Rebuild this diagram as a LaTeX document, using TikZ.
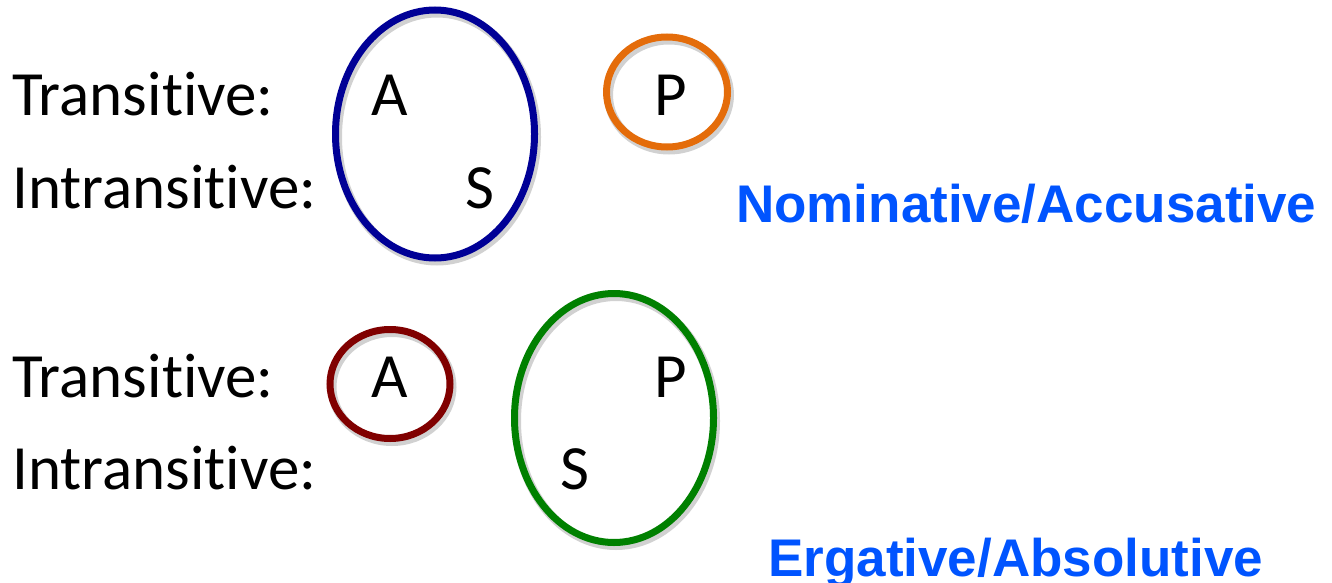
\documentclass[tikz,border=0pt]{standalone}
\usepackage{fontspec}
\setmainfont{Carlito}[Ligatures=NoCommon,RawFeature={-liga;-calt;-dlig}]
\newfontfamily\labfont{Liberation Sans}
\usetikzlibrary{shapes.geometric}
\definecolor{navyring}{RGB}{0,0,150}
\definecolor{orangering}{RGB}{228,108,10}
\definecolor{redring}{RGB}{128,0,0}
\definecolor{greenring}{RGB}{0,128,0}
\definecolor{labblue}{RGB}{0,84,255}
\begin{document}
\begin{tikzpicture}[x=1pt,y=-1pt,
  word/.style={anchor=base west,inner sep=0pt,font=\fontsize{63}{70}\selectfont},
  letter/.style={anchor=base west,inner sep=0pt,font=\fontsize{63}{70}\selectfont},
  lab/.style={anchor=base west,inner sep=0pt,text=labblue,font=\labfont\bfseries\fontsize{53}{60}\selectfont},
  shade/.style={draw=black,opacity=0.18,line width=9pt},
  ringline/.style={line width=7pt}]
\useasboundingbox (0,0) rectangle (1332,583);
% shadows
\draw[shade] (437,137) ellipse [x radius=99.5, y radius=124];
\draw[shade] (669,95) ellipse [x radius=60.5, y radius=55];
\draw[shade] (392,387) ellipse [x radius=60, y radius=54.5];
\draw[shade] (616,421) ellipse [x radius=99.5, y radius=124.5];
% rings
\draw[ringline,navyring] (435,134) ellipse [x radius=99.5, y radius=124];
\draw[ringline,orangering] (667,92) ellipse [x radius=60.5, y radius=55];
\draw[ringline,redring] (390,384) ellipse [x radius=60, y radius=54.5];
\draw[ringline,greenring] (614,418) ellipse [x radius=99.5, y radius=124.5];
% texts
\node[word] (t1) at (12,116) {Transitive:};
\node[word] (i1) at (12,208) {Intransitive:};
\node[word] (t2) at (12,397) {Transitive:};
\node[word] (i2) at (12,489) {Intransitive:};
\node[letter] (a1) at (371,116) {A};
\node[letter] (s1) at (465,208) {S};
\node[letter] (p1) at (654,116) {P};
\node[letter] (a2) at (371,397) {A};
\node[letter] (p2) at (654,397) {P};
\node[letter] (s2) at (560,489) {S};
\node[lab] (nom) at (736,222) {Nominative/Accusative};
\node[lab] (erg) at (768,576) {Ergative/Absolutive};
\end{tikzpicture}
\end{document}
